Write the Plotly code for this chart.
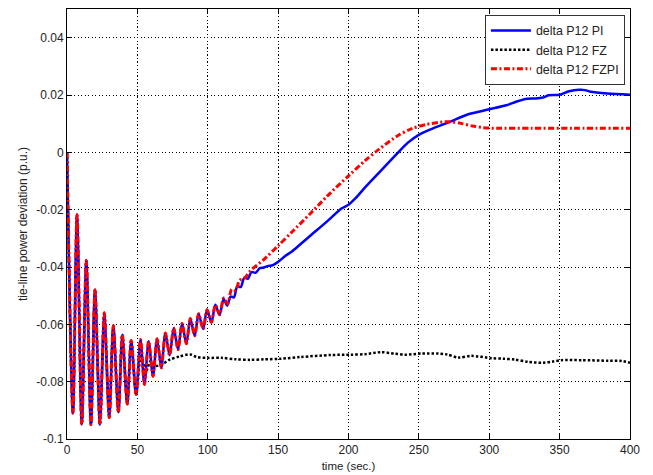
import plotly.graph_objects as go

# Shared transient: all three controllers respond identically at first
osc_t = [0, 4.2, 7.1, 10.5, 13.7, 17.0, 19.9, 23.4, 26.5, 30.0, 32.9, 36.5,
         39.3, 42.8, 45.6, 49.1]
osc_v = [0, -0.0910, -0.0218, -0.0949, -0.0377, -0.0950, -0.0479, -0.0950,
         -0.0560, -0.0926, -0.0605, -0.0907, -0.0636, -0.0878, -0.0656, -0.0845]

# PI and FZPI keep following each other until ~110 s
mid_t = [52.2, 55.0, 58.0, 61.1, 64.0, 67.0, 69.9, 72.9, 75.8, 78.9, 81.7,
         84.8, 87.6, 90.7, 93.5, 96.7, 99.5, 102.6, 105.4, 108.4]
mid_v = [-0.0653, -0.0810, -0.0659, -0.0781, -0.0650, -0.0752, -0.0630,
         -0.0708, -0.0613, -0.0688, -0.0597, -0.0668, -0.0580, -0.0640,
         -0.0563, -0.0616, -0.0549, -0.0593, -0.0532, -0.0567]

pi_tail_t = [111.3, 113.8, 116.2, 118.6, 121.0, 123.4, 126.0, 128.5, 131.0,
             134.0, 137.0, 140.0, 143.0, 146.0, 150.2, 155, 160, 166, 172.6,
             185, 195, 200, 205, 212.4, 222.4, 234.8, 242, 250.2, 259.7, 272,
             284.6, 300, 312, 320, 327, 333, 338, 342, 350, 356.7, 364, 368,
             372, 384, 400]
pi_tail_v = [-0.0512, -0.0535, -0.0503, -0.0506, -0.0467, -0.0470, -0.0437,
             -0.0441, -0.0418, -0.0420, -0.0404, -0.0402, -0.0396, -0.0394,
             -0.0381, -0.0362, -0.0345, -0.0320, -0.0292, -0.0240, -0.0196,
             -0.0183, -0.0160, -0.0119, -0.0067, -0.0003, 0.0033, 0.0062,
             0.0083, 0.0106, 0.0132, 0.0150, 0.0164, 0.0178, 0.0187, 0.0188,
             0.0191, 0.0199, 0.0201, 0.0213, 0.0218, 0.0217, 0.0211, 0.0205,
             0.0201]

fzpi_tail_t = [111.3, 114.2, 117.0, 119.8, 122.6, 125.5, 130.3, 140, 150, 160,
               172.6, 185, 200, 212, 222, 235, 245, 255, 265, 272, 280, 288,
               296, 305, 330, 360, 400]
fzpi_tail_v = [-0.0508, -0.0528, -0.0478, -0.0482, -0.0446, -0.0442, -0.0413,
               -0.0373, -0.0326, -0.0277, -0.0215, -0.0152, -0.0082, -0.0028,
               0.0012, 0.0058, 0.0083, 0.0097, 0.0105, 0.0107, 0.0101, 0.0092,
               0.0086, 0.0084, 0.0084, 0.0084, 0.0084]

fz_tail_t = [52.6, 56.0, 59.5, 63.0, 68.0, 73.0, 80.0, 87.6, 92.0, 100, 110,
             120, 130, 140, 151.7, 166, 187.5, 201.7, 212, 223, 232.5, 240,
             251.8, 263.7, 270, 277.9, 287.4, 301.6, 310, 318.2, 327.7, 338.3,
             345, 351.4, 365.6, 384.6, 394, 400]
fz_tail_v = [-0.0705, -0.0765, -0.0728, -0.0745, -0.0738, -0.0723, -0.0712,
             -0.0705, -0.0714, -0.0717, -0.0717, -0.0722, -0.0724, -0.0722,
             -0.0720, -0.0714, -0.0707, -0.0706, -0.0704, -0.0697, -0.0702,
             -0.0706, -0.0702, -0.0702, -0.0705, -0.0716, -0.0710, -0.0718,
             -0.0720, -0.0723, -0.0731, -0.0734, -0.0730, -0.0725, -0.0725,
             -0.0727, -0.0728, -0.0734]

time_pi = osc_t + mid_t + pi_tail_t
dp12_pi = osc_v + mid_v + pi_tail_v
time_fzpi = osc_t + mid_t + fzpi_tail_t
dp12_fzpi = osc_v + mid_v + fzpi_tail_v
time_fz = osc_t + fz_tail_t
dp12_fz = osc_v + fz_tail_v

x_ticks = [0, 50, 100, 150, 200, 250, 300, 350, 400]
y_ticks = [-0.1, -0.08, -0.06, -0.04, -0.02, 0, 0.02, 0.04]
y_ticktext = ["-0.1", "-0.08", "-0.06", "-0.04", "-0.02", "0", "0.02", "0.04"]

fig = go.Figure()
# Drawn bottom-to-top: FZ, PI, FZPI; legend keeps PI, FZ, FZPI order
fig.add_trace(go.Scatter(
    x=time_fz, y=dp12_fz, mode="lines", name="delta P12 FZ", legendrank=2,
    line=dict(color="#000000", width=2.5, shape="spline", smoothing=0.8,
              dash="2.5px,2px")))
fig.add_trace(go.Scatter(
    x=time_pi, y=dp12_pi, mode="lines", name="delta P12 PI", legendrank=1,
    line=dict(color="#0000ff", width=2.5, shape="spline", smoothing=0.8)))
fig.add_trace(go.Scatter(
    x=time_fzpi, y=dp12_fzpi, mode="lines", name="delta P12 FZPI", legendrank=3,
    line=dict(color="#ff0000", width=3, shape="spline", smoothing=0.8,
              dash="6px,2.5px,2px,2.5px")))

axis_common = dict(
    showline=True, linecolor="black", linewidth=1, mirror="ticks",
    ticks="inside", ticklen=5, tickcolor="black",
    showgrid=True, gridcolor="#000000", gridwidth=1, griddash="1.2px,2.3px",
    zeroline=False, tickfont=dict(size=12, color="#222222"),
    automargin=False,
)

fig.update_layout(
    width=653, height=475,
    margin=dict(l=67, r=23, t=9, b=36),
    paper_bgcolor="white", plot_bgcolor="white",
    font=dict(family="Liberation Sans, Arial, sans-serif", color="#222222"),
    showlegend=True,
    legend=dict(x=0.991, y=0.986, xanchor="right", yanchor="top",
                bgcolor="white", bordercolor="#333333", borderwidth=1,
                font=dict(size=12.4, color="#222222"),
                itemwidth=40, tracegroupgap=0),
    xaxis=dict(range=[0, 400], tickvals=x_ticks,
               title=dict(text="time (sec.)", font=dict(size=11.5), standoff=5),
               **axis_common),
    yaxis=dict(range=[-0.1, 0.05], tickvals=y_ticks, ticktext=y_ticktext,
               title=dict(text="tie-line power deviation (p.u.)",
                          font=dict(size=12), standoff=6),
               **axis_common),
)

fig.write_html("out.html")
